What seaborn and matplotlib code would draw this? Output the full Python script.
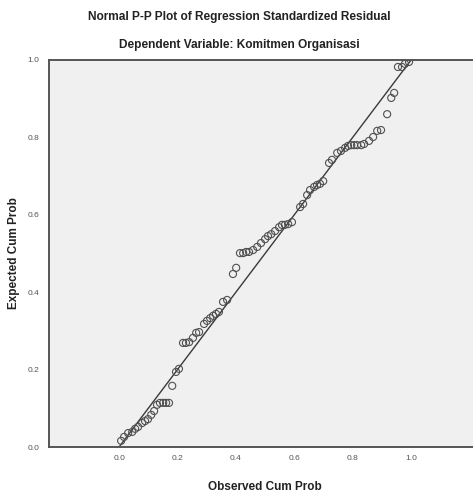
import matplotlib
matplotlib.use("Agg")
import matplotlib.pyplot as plt
import seaborn as sns
import pandas as pd

title = "Normal P-P Plot of Regression Standardized Residual"
subtitle = "Dependent Variable: Komitmen Organisasi"
x_label = "Observed Cum Prob"
y_label = "Expected Cum Prob"
tick_values = [0.0, 0.2, 0.4, 0.6, 0.8, 1.0]
tick_labels = ["0.0", "0.2", "0.4", "0.6", "0.8", "1.0"]

observed = [0.007, 0.017, 0.031, 0.045, 0.055, 0.065, 0.079, 0.089, 0.099, 0.110,
            0.120, 0.130, 0.140, 0.151, 0.161, 0.171, 0.182, 0.195, 0.205, 0.219,
            0.229, 0.240, 0.253, 0.264, 0.274, 0.291, 0.301, 0.312, 0.322, 0.332,
            0.342, 0.356, 0.370, 0.390, 0.401, 0.414, 0.425, 0.435, 0.445, 0.459,
            0.473, 0.486, 0.500, 0.510, 0.521, 0.534, 0.548, 0.558, 0.568, 0.579,
            0.592, 0.620, 0.630, 0.644, 0.654, 0.668, 0.678, 0.688, 0.699, 0.719,
            0.729, 0.747, 0.760, 0.774, 0.784, 0.795, 0.805, 0.815, 0.829, 0.839,
            0.856, 0.870, 0.884, 0.897, 0.918, 0.932, 0.942, 0.955, 0.969, 0.979,
            0.993]
expected = [0.016, 0.026, 0.036, 0.039, 0.047, 0.052, 0.062, 0.067, 0.072, 0.083,
            0.093, 0.109, 0.114, 0.114, 0.114, 0.114, 0.158, 0.194, 0.202, 0.269,
            0.269, 0.271, 0.282, 0.295, 0.297, 0.318, 0.326, 0.333, 0.339, 0.344,
            0.349, 0.375, 0.380, 0.447, 0.463, 0.501, 0.501, 0.504, 0.504, 0.509,
            0.517, 0.527, 0.537, 0.545, 0.550, 0.558, 0.568, 0.574, 0.574, 0.576,
            0.581, 0.620, 0.628, 0.651, 0.664, 0.672, 0.677, 0.680, 0.687, 0.734,
            0.742, 0.760, 0.765, 0.773, 0.778, 0.780, 0.780, 0.780, 0.780, 0.783,
            0.791, 0.801, 0.817, 0.819, 0.860, 0.902, 0.915, 0.982, 0.982, 0.990,
            0.995]
ref_line = [0.0, 1.0]

df = pd.DataFrame({"obs": observed, "exp": expected})
line_df = pd.DataFrame({"x": ref_line, "y": ref_line})

sns.set_theme(style="white")
plt.rcParams["font.family"] = ["Liberation Sans", "DejaVu Sans"]

fig = plt.figure(figsize=(4.73, 4.95), dpi=100)
fig.patch.set_facecolor("white")
ax = fig.add_axes([49 / 473, (495 - 447) / 495, 1 - 49 / 473, (447 - 60) / 495])
ax.set_facecolor("#f0f0f0")

sns.lineplot(data=line_df, x="x", y="y", ax=ax, color="#3a3a3a", linewidth=1.0)
sns.scatterplot(data=df, x="obs", y="exp", ax=ax, marker="o", s=26,
                facecolor="none", edgecolor="#505050", linewidth=0.8, zorder=3)

ax.set_xlim(-0.240, 1.212)
ax.set_ylim(0.0, 1.0)
ax.set_xticks(tick_values)
ax.set_xticklabels(tick_labels)
ax.set_yticks(tick_values)
ax.set_yticklabels(tick_labels)
ax.tick_params(axis="both", labelsize=6, colors="#555555", length=4, width=0.8,
               direction="out", pad=3)
ax.tick_params(axis="x", direction="inout", length=6)
for name in ["left", "bottom", "top"]:
    ax.spines[name].set_color("#555555")
    ax.spines[name].set_linewidth(1.4)
ax.spines["right"].set_visible(False)

ax.set_xlabel(x_label, fontsize=8.5, fontweight="bold", color="#222222")
ax.xaxis.set_label_coords((265 - 49) / 424, -(481 - 447) / 387)
ax.set_ylabel(y_label, fontsize=8.5, fontweight="bold", color="#222222")
ax.yaxis.set_label_coords(-(49 - 20) / 424, 0.5)

fig.text(0.505, 1 - 17 / 495, title, ha="center", va="center", fontsize=8.6,
         fontweight="bold", color="#222222")
fig.text(0.505, 1 - 45 / 495, subtitle, ha="center", va="center", fontsize=8.6,
         fontweight="bold", color="#222222")

fig.savefig("out.png", dpi=100)
